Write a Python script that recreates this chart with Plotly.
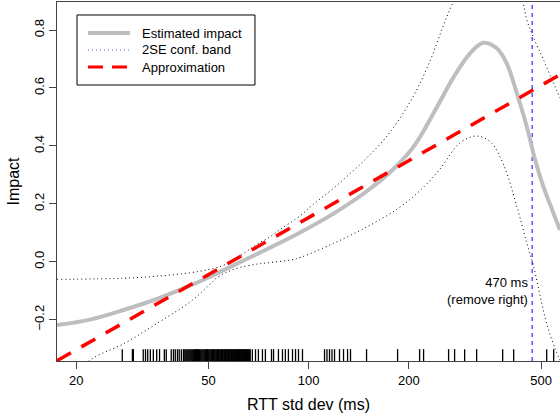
import math
import plotly.graph_objects as go

# ---------------- data ----------------
fit_x = [17.5, 22.0, 27.9, 35.1, 44.1, 52, 59.6, 75.1, 94.6, 119.1, 150.2, 180.6,
         207.6, 242, 272, 305, 335, 368, 394, 423, 453, 480, 508, 545, 570]
fit_y = [-0.219, -0.200, -0.166, -0.128, -0.082, -0.045, -0.012, 0.044, 0.102, 0.167,
         0.245, 0.322, 0.40, 0.53, 0.635, 0.718, 0.756, 0.737, 0.685, 0.581,
         0.466, 0.351, 0.259, 0.167, 0.109]

upper_x = [17.5, 27.9, 35.1, 44.1, 50, 55, 59.6, 65, 70.2, 75.1, 81.8, 94.6, 102.4,
           119.1, 150, 175, 206, 233, 254, 273, 305, 340, 400, 440, 453, 473,
           508, 570]
upper_y = [-0.061, -0.057, -0.05, -0.038, -0.027, -0.014, 0.008, 0.035, 0.062, 0.08,
           0.11, 0.16, 0.195, 0.255, 0.36, 0.445, 0.57, 0.70, 0.815, 0.90,
           1.0, 1.05, 1.03, 0.90, 0.835, 0.778, 0.698, 0.565]

lower_x = [17.5, 22, 27.9, 35.1, 44.1, 49.6, 53, 57, 62, 70.2, 75.1, 88.3, 94.6,
           119.1, 150.2, 186.4, 216, 247, 285, 319, 352, 384, 423, 453, 475, 497,
           520, 551, 580]
lower_y = [-0.45, -0.34, -0.282, -0.212, -0.138, -0.086, -0.055, -0.035, -0.02,
           -0.008, -0.004, 0.006, 0.015, 0.064, 0.121, 0.185, 0.245, 0.317, 0.41,
           0.434, 0.414, 0.34, 0.19, 0.064, -0.017, -0.12, -0.215, -0.30, -0.36]

approx_x = [17.5, 570]
approx_y = [-0.342, 0.646]

threshold_ms = 470

rug_ms = [27.5, 29.5, 29.7, 31.8, 32.3, 32.8, 33.4, 34.1, 34.9, 35.6, 36.8, 37.3,
          38.6, 39.2, 39.7, 40.3, 40.8, 41.4, 42.0,
          42.4, 42.7, 43.0, 43.3, 43.6, 43.9, 44.2, 44.5, 44.8, 45.1, 45.4, 45.7,
          46.0, 46.3, 46.6, 46.9, 47.2, 47.5, 47.8, 48.1, 48.4, 48.7, 49.0, 49.3,
          49.6, 49.9, 50.2, 50.5, 50.8, 51.1, 51.4, 51.7, 52.0, 52.3, 52.6, 52.9,
          53.2, 53.5, 53.8, 54.1, 54.4, 54.7, 55.0, 55.3, 55.6, 55.9, 56.2, 56.5,
          56.8, 57.1, 57.4, 57.7, 58.0, 58.3, 58.6, 58.9, 59.2, 59.5, 59.8, 60.1,
          60.4, 60.7, 61.0, 61.3, 61.6, 61.9, 62.2, 62.5, 62.8, 63.1, 63.4, 63.7,
          64.0, 64.3, 64.6, 64.9, 65.2, 65.5, 65.8, 66.1, 66.4, 66.7,
          67.7, 69.2, 70.6, 72.6, 74.1, 77.3, 78.4, 81.1, 83.4, 85.1, 86.9, 89.4,
          91.3, 93.2, 95.8, 111.6, 113.5, 115.5, 117.5, 119.6, 123.8, 127.3, 130.9,
          133.6, 149.3, 185.1, 215.6, 221.6, 263.5, 274.7, 294.5, 320, 383.2,
          413.6, 519.8, 545.6]

x_ticks = [20, 50, 100, 200, 500]
y_ticks = [-0.2, 0.0, 0.2, 0.4, 0.6, 0.8]
y_ticktext = ["\u22120.2", "0.0", "0.2", "0.4", "0.6", "0.8"]

legend_names = ["Estimated impact", "2SE conf. band", "Approximation"]

y_lo, y_hi = -0.343, 0.897
x_lo, x_hi = 17.5, 570
rug_top = -0.302

FONT = "Liberation Sans, Arial, Helvetica, sans-serif"

fig = go.Figure()

# rug
rx, ry = [], []
for v in rug_ms:
    rx += [v, v, None]
    ry += [y_lo, rug_top, None]
fig.add_trace(go.Scatter(x=rx, y=ry, mode="lines", line=dict(color="black", width=1.3),
                         showlegend=False, hoverinfo="skip"))

# confidence bands
for bx, by in ((upper_x, upper_y), (lower_x, lower_y)):
    fig.add_trace(go.Scatter(x=bx, y=by, mode="lines", line_shape="spline",
                             line=dict(color="black", width=1, dash="1px,3px"),
                             showlegend=False))

# threshold line
fig.add_trace(go.Scatter(x=[threshold_ms, threshold_ms], y=[y_lo, y_hi], mode="lines",
                         line=dict(color="blue", width=1, dash="4px,4px"),
                         showlegend=False))

# estimated impact
fig.add_trace(go.Scatter(x=fit_x, y=fit_y, mode="lines", line_shape="spline",
                         line=dict(color="#BEBEBE", width=4), showlegend=False,
                         name=legend_names[0]))
# approximation
fig.add_trace(go.Scatter(x=approx_x, y=approx_y, mode="lines",
                         line=dict(color="red", width=3.5, dash="16px,12px"),
                         showlegend=False, name=legend_names[2]))

fig.add_annotation(x=math.log10(threshold_ms), y=-0.101, xref="x", yref="y",
                   text="470 ms<br>(remove right)", showarrow=False,
                   xanchor="right", yanchor="middle", align="right", xshift=-2,
                   font=dict(size=13, color="black", family=FONT))

# legend (drawn manually to match the R legend box)
fig.add_shape(type="rect", xref="paper", yref="paper",
              x0=0.0398, x1=0.3936, y0=0.7688, y1=0.9638,
              line=dict(color="black", width=1), fillcolor="rgba(0,0,0,0)")
leg_styles = [dict(color="#BEBEBE", width=4),
              dict(color="#5a5aff", width=1, dash="1px,3px"),
              dict(color="red", width=3, dash="15px,9px")]
leg_y = [0.9136, 0.8663, 0.8189]
for name, st, yy in zip(legend_names, leg_styles, leg_y):
    fig.add_shape(type="line", xref="paper", yref="paper", x0=0.0616, x1=0.1451,
                  y0=yy, y1=yy, line=st)
    fig.add_annotation(x=0.165, y=yy, xref="paper", yref="paper", text=name,
                       showarrow=False, xanchor="left", yanchor="middle",
                       font=dict(size=13, color="black", family=FONT))

fig.update_layout(
    width=560, height=420,
    margin=dict(l=57, r=0, t=2, b=59),
    paper_bgcolor="white", plot_bgcolor="white",
    font=dict(family=FONT, size=13, color="black"),
    showlegend=False,
    xaxis=dict(type="log", range=[math.log10(x_lo), math.log10(x_hi)],
               tickvals=x_ticks, ticktext=[str(t) for t in x_ticks],
               ticks="outside", ticklen=7, tickcolor="#444", showgrid=False,
               zeroline=False, showline=True, linecolor="#444", linewidth=1,
               mirror=True, title=dict(text="RTT std dev (ms)", standoff=12),
               tickfont=dict(size=13)),
    yaxis=dict(range=[y_lo, y_hi], tickvals=y_ticks, ticktext=y_ticktext,
               tickangle=-90, ticks="outside", ticklen=7, tickcolor="#444",
               showgrid=False, zeroline=False, showline=True, linecolor="#444",
               linewidth=1, title=dict(text="Impact", standoff=8),
               tickfont=dict(size=13)),
)

fig.write_html("out.html", config={"displayModeBar": False},
               post_script="document.body.style.margin='0';")
